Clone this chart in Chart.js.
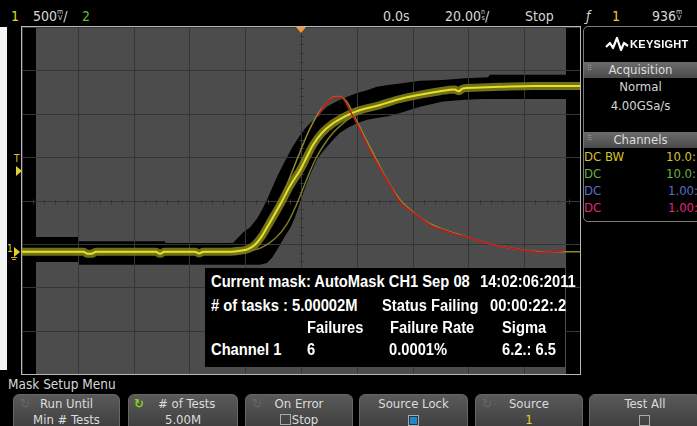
<!DOCTYPE html>
<html>
<head>
<meta charset="utf-8">
<script src="https://cdn.jsdelivr.net/npm/chart.js@4.4.0/dist/chart.umd.min.js"></script>
<style>
html, body { margin: 0; padding: 0; background: #000; }
body { width: 697px; height: 426px; position: relative; overflow: hidden;
  font-family: "Liberation Sans Narrow", "DejaVu Sans Condensed", "Roboto", sans-serif; color: #d6d6d6; }
.a { position: absolute; white-space: nowrap; }
.tb { top: 8px; font-size: 14px; line-height: 16px; }
.u { display: inline-block; font-size: 7px; line-height: 6px; vertical-align: 1px; text-align: center; }
#plot { position: absolute; left: 21px; top: 26px; width: 558px; height: 347px; border: 1px solid #b8b8b8; }
#plot canvas { display: block; }
.info { font-family: "Liberation Sans", Arial, sans-serif; font-weight: bold;
  font-size: 16px; line-height: 18px; color: #fff; transform: scaleX(0.92); transform-origin: 0 0; }
.bar { position: absolute; left: 584px; width: 113px; height: 16px;
  background: linear-gradient(#6c6c6c, #4a4a4a); font-size: 13px; line-height: 16px; text-align: center; color: #ddd; }
.pt { font-size: 13px; line-height: 16px; }
.btn { position: absolute; top: 394px; height: 40px; border-radius: 6px; border: 1px solid #666;
  background: linear-gradient(#5a5a5a, #3a3a3a); box-sizing: border-box; }
.bt { position: absolute; left: 0; right: 0; text-align: center; font-size: 13px; line-height: 15px; color: #ddd; }
.ico { position: absolute; top: 1px; font-size: 13px; color: #666; }
.chk { display: inline-block; width: 9px; height: 9px; border: 1px solid #aaa; vertical-align: -1px; margin-right: 1px; }
</style>
</head>
<body>

<!-- top status line -->
<div class="a tb" style="left:11px;color:#e0d428">1</div>
<div class="a tb" style="left:33px">500<span class="u">m<br>V</span>/</div>
<div class="a tb" style="left:82px;color:#5cbf3c">2</div>
<div class="a tb" style="left:383px">0.0s</div>
<div class="a tb" style="left:445px">20.00<span class="u">n<br>s</span>/</div>
<div class="a tb" style="left:525px">Stop</div>
<div class="a tb" style="left:586px;font-style:italic">ƒ</div>
<div class="a tb" style="left:612px;color:#e0d428">1</div>
<div class="a tb" style="left:652px">936<span class="u">m<br>V</span></div>

<div class="a" style="left:0;top:27px;width:7px;height:343px;background:#f4f4f4"></div>

<div id="plot"><canvas id="scope" width="558" height="347"></canvas></div>

<!-- trigger position / level, channel ground markers -->
<div class="a" style="left:296px;top:27px;width:0;height:0;border-left:5px solid transparent;border-right:5px solid transparent;border-top:6px solid #f39a36"></div>
<div class="a" style="left:14px;top:154px;font-size:10px;line-height:10px;color:#d8c828">T</div>
<div class="a" style="left:16px;top:166px;width:0;height:0;border-top:5px solid transparent;border-bottom:5px solid transparent;border-left:6px solid #e0d028"></div>
<div class="a" style="left:7px;top:244px;font-size:10px;line-height:10px;color:#e0d028">1</div>
<div class="a" style="left:14px;top:247px;width:0;height:0;border-top:5px solid transparent;border-bottom:5px solid transparent;border-left:6px solid #e0d028"></div>
<div class="a" style="left:11px;top:257px;width:6px;height:1px;background:#c8b820"></div>
<div class="a" style="left:12px;top:259px;width:4px;height:1px;background:#c8b820"></div>

<!-- mask test results -->
<div class="a" style="left:205px;top:268px;width:360px;height:99px;background:#000"></div>
<div class="a info" style="left:211px;top:273px">Current mask: AutoMask CH1 Sep 08</div>
<div class="a info" style="left:480px;top:273px">14:02:06:2011</div>
<div class="a info" style="left:211px;top:297px"># of tasks : 5.00002M</div>
<div class="a info" style="left:382px;top:297px">Status Failing</div>
<div class="a info" style="left:490px;top:297px">00:00:22:.2</div>
<div class="a info" style="left:307px;top:319px">Failures</div>
<div class="a info" style="left:390px;top:319px">Failure Rate</div>
<div class="a info" style="left:502px;top:319px">Sigma</div>
<div class="a info" style="left:211px;top:341px">Channel 1</div>
<div class="a info" style="left:307px;top:341px">6</div>
<div class="a info" style="left:389px;top:341px">0.0001%</div>
<div class="a info" style="left:502px;top:341px">6.2.: 6.5</div>

<!-- side panel -->
<div class="a" style="left:583px;top:26px;width:130px;height:196px;border:1px solid #7a7a7a;border-radius:5px;box-sizing:border-box"></div>
<svg class="a" style="left:604px;top:36px" width="26" height="16">
  <polyline points="2,11 6,7 9,12 13,2 17,14 20,7 24,10" fill="none" stroke="#fff" stroke-width="2.2" stroke-linejoin="round"/>
</svg>
<div class="a" style="left:630px;top:37px;font-family:'Liberation Sans','DejaVu Sans',sans-serif;font-weight:bold;font-size:11px;line-height:14px;color:#fff;letter-spacing:0.3px">KEYSIGHT</div>
<div class="bar" style="top:62px">Acquisition</div>
<div class="a" style="left:587px;top:64px;font-size:8px;color:#999">⠿</div>
<div class="a pt" style="left:584px;width:113px;text-align:center;top:79px">Normal</div>
<div class="a pt" style="left:584px;width:113px;text-align:center;top:98px">4.00GSa/s</div>
<div class="bar" style="top:132px">Channels</div>
<div class="a" style="left:587px;top:134px;font-size:8px;color:#999">⠿</div>
<div class="a pt" style="left:584px;top:149px;color:#d4c424">DC BW</div>
<div class="a pt" style="left:666px;top:149px;color:#d4c424">10.0:1</div>
<div class="a pt" style="left:584px;top:166px;color:#6cb03c">DC</div>
<div class="a pt" style="left:666px;top:166px;color:#6cb03c">10.0:1</div>
<div class="a pt" style="left:584px;top:183px;color:#5670c4">DC</div>
<div class="a pt" style="left:668px;top:183px;color:#5670c4">1.00:1</div>
<div class="a pt" style="left:584px;top:200px;color:#e0287a">DC</div>
<div class="a pt" style="left:668px;top:200px;color:#e0287a">1.00:1</div>

<!-- softkey menu -->
<div class="a" style="left:8px;top:376px;font-size:13.5px;line-height:16px">Mask Setup Menu</div>
<div class="btn" style="left:13px;width:107px">
  <div class="ico" style="left:6px">↻</div>
  <div class="bt" style="top:1px">Run Until</div>
  <div class="bt" style="top:17px">Min # Tests</div>
</div>
<div class="btn" style="left:128px;width:110px">
  <div class="ico" style="left:5px;color:#8ccf1c;font-weight:bold">↻</div>
  <div class="bt" style="top:1px">&nbsp;&nbsp;# of Tests</div>
  <div class="bt" style="top:17px">5.00M</div>
</div>
<div class="btn" style="left:245px;width:108px">
  <div class="ico" style="left:6px">↻</div>
  <div class="bt" style="top:1px">On Error</div>
  <div class="bt" style="top:17px"><span class="chk"></span>Stop</div>
</div>
<div class="btn" style="left:359px;width:109px">
  <div class="bt" style="top:1px">Source Lock</div>
  <div class="bt" style="top:18px"><span class="chk" style="background:#1a8ad0;box-shadow:inset 0 0 0 1px #333"></span></div>
</div>
<div class="btn" style="left:475px;width:108px">
  <div class="ico" style="left:6px">↻</div>
  <div class="bt" style="top:1px">Source</div>
  <div class="bt" style="top:17px;color:#e0d428">1</div>
</div>
<div class="btn" style="left:589px;width:112px">
  <div class="bt" style="top:1px">Test All</div>
  <div class="bt" style="top:18px"><span class="chk"></span></div>
</div>

<script>
// time in ns (20 ns/div), voltage in V (500 mV/div)
const traceT = [-100, -78, -76.5, -75, -73.5, -60, -52, -50.5, -49, -38, -36.5, -35, -25.4, -21.9, -19.0, -16.5, -14.0,
  -11.1, -7.5, -3.9, 0, 2.2, 4.3, 7.5, 11.5, 15.8, 20.1, 28.3, 35.5, 42.7, 49.8, 55, 56.5, 58, 62, 71.3, 83.2, 100];
const traceV = [0, 0, -0.025, -0.025, 0, 0, 0, -0.025, 0, 0, -0.02, 0, 0, 0.01, 0.03, 0.08, 0.18,
  0.34, 0.54, 0.76, 0.96, 1.10, 1.23, 1.37, 1.48, 1.56, 1.62, 1.69, 1.76, 1.81, 1.85, 1.87, 1.85, 1.88, 1.89, 1.90, 1.91, 1.91];

const fastT = [-100, -23.7, -19.0, -15.4, -11.8, -8.2, -4.7, -1.1, 2.5, 6.1, 9.0, 11.5, 13.6, 16.1, 18.3, 20.4,
  22.9, 25.8, 30.8, 35.5, 40.1, 45.2, 50.9, 59.5, 68.8, 77.4, 85.7, 93.9, 100];
const fastV = [-0.01, -0.01, 0.04, 0.13, 0.31, 0.54, 0.80, 1.09, 1.37, 1.59, 1.71, 1.78, 1.79, 1.74, 1.62, 1.48,
  1.32, 1.14, 0.83, 0.60, 0.46, 0.34, 0.26, 0.17, 0.08, 0.03, 0, 0, 0];

const slowT = [-27.2, -20.1, -14.0, -9.0, -5.0, -2.2, 0.4, 2.9, 5.4, 8.2, 11.5, 15.8, 21.1];
const slowV = [-0.01, 0, 0.05, 0.16, 0.32, 0.50, 0.70, 0.90, 1.08, 1.23, 1.37, 1.50, 1.61];

const failT = [6.1, 7.5, 9.0, 10.8, 12.5, 14.0, 15.4, 17.6, 19.7, 21.9, 24.0, 26.5, 29.0, 31.9, 35.5, 38.0, 40.1,
  42.7, 45.2, 48.0, 50.9, 55.2, 59.5, 64.2, 68.8, 73.1, 77.4, 81.4, 85.7, 90.0, 93.9, 94.6];
const failV = [1.56, 1.64, 1.71, 1.76, 1.78, 1.78, 1.75, 1.62, 1.50, 1.35, 1.21, 1.06, 0.92, 0.76, 0.57, 0.50, 0.45,
  0.39, 0.33, 0.28, 0.25, 0.20, 0.17, 0.12, 0.08, 0.05, 0.03, 0.01, -0.01, 0, 0.01, 0.03];

const maskTopT = [-95, -79.9, -79.9, -48.7, -48.7, -24.4, -20.8, -18.3, -15.8, -14.0, -12.2, -10.4, -8.6, -6.8, -5.0,
  -3.2, -1.4, 0.7, 3.2, 6.1, 9.3, 11.5, 14.0, 16.8, 20.1, 23.7, 27.2, 31.2, 35.5, 42.7, 50.9, 58.8, 67.0, 67.7, 95];
const maskTopV = [0.17, 0.17, 0.12, 0.12, 0.10, 0.10, 0.22, 0.28, 0.38, 0.48, 0.60, 0.73, 0.86, 0.98, 1.09,
  1.20, 1.29, 1.39, 1.48, 1.57, 1.67, 1.71, 1.75, 1.79, 1.83, 1.86, 1.90, 1.92, 1.94, 1.97, 1.98, 2.00, 2.01, 2.04, 2.04];

const maskBotT = [-95, -79.9, -79.9, -14.7, -12.2, -10.4, -9.0, -7.5, -5.7, -3.9, -2.2, -0.4, 1.4, 3.2, 5.7, 7.5,
  9.3, 11.5, 14.0, 16.8, 20.1, 23.7, 27.2, 31.2, 35.5, 42.7, 50.9, 58.8, 65.2, 95];
const maskBotV = [-0.12, -0.12, -0.15, -0.15, -0.13, -0.07, 0, 0.08, 0.18, 0.27, 0.39, 0.56, 0.73, 0.88, 1.06, 1.14,
  1.21, 1.29, 1.37, 1.43, 1.48, 1.52, 1.54, 1.56, 1.60, 1.67, 1.73, 1.75, 1.76, 1.76];

const timeRange = [-100, 100];
const voltRange = [-1.41, 2.59];

function pts(ts, vs) {
  return ts.map((t, i) => ({ x: t, y: vs[i] }));
}

// grid goes over the mask but under the waveforms
const graticule = {
  id: 'graticule',
  beforeDatasetDraw(chart, args) {
    if (chart.data.datasets[args.index].label !== 'slow edge') return;
    const { ctx, chartArea: a, scales: { x, y } } = chart;
    ctx.save();
    ctx.strokeStyle = '#363636';
    ctx.lineWidth = 1;
    ctx.beginPath();
    x.ticks.forEach(t => {
      const px = Math.round(x.getPixelForValue(t.value)) + 0.5;
      ctx.moveTo(px, a.top); ctx.lineTo(px, a.bottom);
    });
    y.ticks.forEach(t => {
      const py = Math.round(y.getPixelForValue(t.value)) + 0.5;
      ctx.moveTo(a.left, py); ctx.lineTo(a.right, py);
    });
    // minor ticks on the centre lines
    const cy = Math.round(y.getPixelForValue((voltRange[0] + voltRange[1]) / 2)) + 0.5;
    const cx = Math.round(x.getPixelForValue(0)) + 0.5;
    for (let t = timeRange[0]; t <= timeRange[1]; t += 4) {
      const px = Math.round(x.getPixelForValue(t)) + 0.5;
      ctx.moveTo(px, cy - 2); ctx.lineTo(px, cy + 3);
    }
    for (let v = voltRange[0]; v <= voltRange[1] + 1e-9; v += 0.1) {
      const py = Math.round(y.getPixelForValue(v)) + 0.5;
      ctx.moveTo(cx - 2, py); ctx.lineTo(cx + 3, py);
    }
    ctx.stroke();
    ctx.restore();
  }
};

const ctx = document.getElementById('scope').getContext('2d');
new Chart(ctx, {
  type: 'line',
  data: {
    datasets: [
      { label: 'mask top', data: pts(maskTopT, maskTopV), fill: 'end', backgroundColor: '#4c4c4c',
        borderColor: 'transparent', borderWidth: 0, pointRadius: 0, tension: 0, order: 9 },
      { label: 'mask bottom', data: pts(maskBotT, maskBotV), fill: 'start', backgroundColor: '#4c4c4c',
        borderColor: 'transparent', borderWidth: 0, pointRadius: 0, tension: 0, order: 8 },
      { label: 'slow edge', data: pts(slowT, slowV), borderColor: '#7c7c26', borderWidth: 1.5,
        pointRadius: 0, cubicInterpolationMode: 'monotone', order: 6 },
      { label: 'fast edge', data: pts(fastT, fastV), borderColor: '#8a8a2c', borderWidth: 1.5,
        pointRadius: 0, cubicInterpolationMode: 'monotone', order: 5 },
      { label: 'persistence', data: pts(traceT, traceV), borderColor: 'rgba(124,124,32,0.9)', borderWidth: 8,
        pointRadius: 0, cubicInterpolationMode: 'monotone', order: 4 },
      { label: 'CH1', data: pts(traceT, traceV), borderColor: '#e8e21e', borderWidth: 2,
        pointRadius: 0, cubicInterpolationMode: 'monotone', order: 3 },
      { label: 'failure', data: pts(failT, failV), borderColor: '#c4161c', borderWidth: 1.5,
        pointRadius: 0, cubicInterpolationMode: 'monotone', order: 2 }
    ]
  },
  options: {
    responsive: false,
    animation: false,
    events: [],
    layout: { padding: 0 },
    plugins: { legend: { display: false }, tooltip: { enabled: false } },
    scales: {
      x: { type: 'linear', display: false, min: timeRange[0], max: timeRange[1], ticks: { stepSize: 20 } },
      y: { type: 'linear', display: false, min: voltRange[0], max: voltRange[1], ticks: { stepSize: 0.5 } }
    }
  },
  plugins: [graticule]
});
</script>
</body>
</html>
